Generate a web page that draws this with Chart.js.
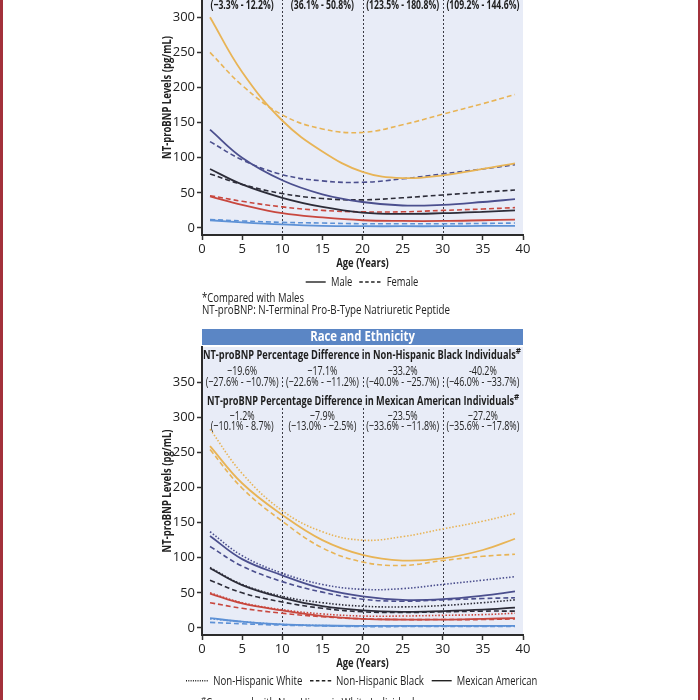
<!DOCTYPE html>
<html><head><meta charset="utf-8">
<script src="https://cdn.jsdelivr.net/npm/chart.js@4.4.1/dist/chart.umd.min.js"></script>
<style>
html,body{margin:0;padding:0;background:#fff;width:700px;height:700px;overflow:hidden;position:relative;}
canvas{position:absolute;left:150px;}
#c1{top:-100px}
#c2{top:300px}
.bar{position:absolute;top:0;width:2.5px;height:700px;background:#a3313b}
</style></head><body>
<div class="bar" style="left:0"></div>
<div class="bar" style="left:697.5px"></div>
<canvas id="c1" width="400" height="420"></canvas>
<canvas id="c2" width="400" height="420"></canvas>
<script>
// ---------- data ----------
const ages = [1, 5, 10, 15, 20, 25, 30, 35, 39];
const xTicks = [0, 5, 10, 15, 20, 25, 30, 35, 40];
const yTicks = [0, 50, 100, 150, 200, 250, 300, 350];

// Sex panel (solid = Male, dashed = Female)
const goldMale     = [300, 222, 153, 109, 80, 71, 75, 84, 92];
const goldFemale   = [250, 203, 161, 141, 136, 147, 162, 177, 190];
const navyMale     = [140, 100, 68, 48, 37, 32, 33, 37, 41];
const navyFemale   = [123, 97, 76, 67, 65, 70, 77, 84, 90];
const blackMale    = [84, 62, 43, 30, 22, 20, 21, 23, 25];
const blackFemale  = [77, 62, 49, 42, 40, 43, 47, 51, 54];
const redMale      = [45, 33, 21, 15, 11, 10, 10, 11, 12];
const redFemale    = [46, 38, 30, 25, 23, 23, 25, 27, 29];
const blueMale     = [11, 8, 5, 3, 2.5, 2.5, 2.5, 3, 3];
const blueFemale   = [12, 10, 8, 7, 6, 6, 6, 6.5, 7];

// Race panel (dotted = Non-Hispanic White, dashed = Non-Hispanic Black, solid = Mexican American)
const goldWhite  = [283, 220, 167, 137, 125, 130, 141, 152, 163];
const goldBlack  = [254, 199, 152, 114, 94, 89, 96, 102, 105];
const goldMex    = [259, 206, 161, 125, 104, 96, 99, 111, 127];
const navyWhite  = [137, 103, 78, 62, 55, 56, 62, 68, 73];
const navyBlack  = [116, 88, 66, 51, 41, 38, 40, 42, 43];
const navyMex    = [131, 98, 75, 56, 45, 40, 41, 46, 52];
const blackWhite = [86, 62, 45, 36, 31, 30, 32, 36, 40];
const blackBlack = [68, 50, 37, 28, 23, 22, 23, 24, 24];
const blackMex   = [85, 61, 43, 31, 25, 23, 24, 26, 29];
const redWhite   = [50, 36, 26, 20, 17, 17, 18, 19, 21];
const redBlack   = [36, 28, 21, 16, 13, 12, 12, 12, 13];
const redMex     = [49, 35, 25, 17, 13, 12, 12, 13, 14];
const blueWhite  = [13, 9, 5, 3.5, 2.5, 2.5, 2.5, 2.5, 3];
const blueBlack  = [8, 6, 4, 3, 2, 2, 2, 2, 2];
const blueMex    = [14, 9, 5, 3.5, 3, 3, 3, 3, 3];

// Header texts
const sexRanges   = ['(−3.3% - 12.2%)', '(36.1% - 50.8%)', '(123.5% - 180.8%)', '(109.2% - 144.6%)'];
const blackPct    = ['−19.6%', '−17.1%', '−33.2%', '-40.2%'];
const blackRanges = ['(−27.6% - −10.7%)', '(−22.6% - −11.2%)', '(−40.0% - −25.7%)', '(−46.0% - −33.7%)'];
const mexPct      = ['−1.2%', '−7.9%', '−23.5%', '−27.2%'];
const mexRanges   = ['(−10.1% - 8.7%)', '(−13.0% - −2.5%)', '(−33.6% - −11.8%)', '(−35.6% - −17.8%)'];
const columnAges  = [5, 15, 25, 35];
const guideAges   = [10, 20, 30];

// ---------- styling ----------
const C = {gold:'#e8b456', navy:'#4b4f8e', black:'#2c2c38', red:'#c8473e', blue:'#5d91d6'};
const FONT = '"Open Sans", "DejaVu Sans", sans-serif';
Chart.defaults.font.family = FONT;

function ds(values, color, style) {
  const dash = style === 'dashed' ? [5, 3] : style === 'dotted' ? [1.5, 1.8] : [];
  return {
    data: ages.map((x, i) => ({x, y: values[i]})),
    borderColor: color, borderWidth: style === 'solid' ? 1.8 : 1.6,
    borderDash: dash, pointRadius: 0, fill: false,
    tension: 0.4, cubicInterpolationMode: 'default'
  };
}

function txt(ctx, s, x, y, o) {
  o = o || {};
  const size = o.size || 12;
  ctx.save();
  ctx.font = (o.bold ? 'bold ' : '') + size + 'px ' + FONT;
  const w = ctx.measureText(s).width;
  const sx = o.sx || (o.w ? o.w / w : 1);
  ctx.translate(x, y);
  if (o.rot) ctx.rotate(o.rot);
  ctx.scale(sx, 1);
  ctx.textAlign = o.align || 'center';
  ctx.textBaseline = 'middle';
  ctx.fillStyle = o.color || '#222';
  ctx.fillText(s, 0, 0);
  ctx.restore();
  return w * sx;
}
function measure(ctx, s, size, bold) {
  ctx.save();
  ctx.font = (bold ? 'bold ' : '') + size + 'px ' + FONT;
  const w = ctx.measureText(s).width;
  ctx.restore();
  return w;
}
function line(ctx, x1, x2, y, dash) {
  ctx.save();
  ctx.strokeStyle = '#222'; ctx.lineWidth = 1.4;
  ctx.setLineDash(dash);
  ctx.beginPath(); ctx.moveTo(x1, y); ctx.lineTo(x2, y); ctx.stroke();
  ctx.restore();
}

function makeOptions() {
  const tickFont = {family: FONT, size: 13};
  const grid = {drawOnChartArea: false, drawTicks: true, tickLength: 5, tickColor: '#333', tickWidth: 1.5};
  const border = {display: true, color: '#2b2b2b', width: 2};
  return {
    responsive: false, animation: false,
    layout: {padding: {left: 0, right: 27, top: 47, bottom: 0}},
    plugins: {legend: {display: false}, tooltip: {enabled: false}},
    scales: {
      x: {type: 'linear', min: 0, max: 40,
          afterBuildTicks(s) { s.ticks = xTicks.map(v => ({value: v})); },
          ticks: {font: tickFont, color: '#222', padding: 1, maxRotation: 0, autoSkip: false},
          grid, border, afterFit(s) { s.height = 85; }},
      y: {type: 'linear', min: -10, max: 400,
          afterBuildTicks(s) { s.ticks = yTicks.map(v => ({value: v})); },
          ticks: {font: tickFont, color: '#222', padding: 2},
          grid, border, afterFit(s) { s.width = 52; }}
    }
  };
}

function bgAndGuides(segments) {
  return {
    id: 'bgGuides',
    beforeDraw(chart) {
      const {ctx, chartArea: a} = chart;
      ctx.save(); ctx.fillStyle = '#e8ecf7';
      ctx.fillRect(a.left, a.top, a.right - a.left, a.bottom - a.top - 1);
      ctx.restore();
    },
    beforeDatasetsDraw(chart) {
      const {ctx, chartArea: a, scales} = chart;
      ctx.save();
      ctx.strokeStyle = '#3a3a44'; ctx.lineWidth = 1; ctx.setLineDash([2, 2]);
      guideAges.forEach(g => {
        const x = Math.round(scales.x.getPixelForValue(g)) + 0.5;
        (segments || [[a.top, a.bottom]]).forEach(([y1, y2]) => {
          ctx.beginPath(); ctx.moveTo(x, y1); ctx.lineTo(x, y2); ctx.stroke();
        });
      });
      ctx.restore();
    }
  };
}

// ---------- top panel: Sex ----------
const topText = {
  id: 'topText',
  afterDraw(chart) {
    const {ctx, scales} = chart;
    const sxB = 73 / measure(ctx, sexRanges[2], 12.5, true);
    sexRanges.forEach((s, i) => txt(ctx, s, scales.x.getPixelForValue(columnAges[i]), 105, {bold: true, size: 12.5, sx: sxB, color: '#1e1e1e'}));
    txt(ctx, 'NT-proBNP Levels (pg/mL)', 17, 197.5, {bold: true, size: 13, w: 123, rot: -Math.PI / 2});
    txt(ctx, 'Age (Years)', 212.5, 363, {bold: true, size: 12.5, w: 52.6});
    line(ctx, 155.7, 175.7, 382, []);
    txt(ctx, 'Male', 181, 382, {align: 'left', w: 21.3, size: 13.5});
    line(ctx, 209.3, 232.3, 382, [3.5, 2.4]);
    txt(ctx, 'Female', 236.7, 382, {align: 'left', w: 31.6, size: 13.5});
    txt(ctx, '*Compared with Males', 52, 398, {align: 'left', w: 102, size: 12.5});
    txt(ctx, 'NT-proBNP: N-Terminal Pro-B-Type Natriuretic Peptide', 52, 410.7, {align: 'left', w: 248, size: 12.5});
  }
};

new Chart(document.getElementById('c1'), {
  type: 'line',
  data: {datasets: [
    ds(goldMale, C.gold, 'solid'), ds(goldFemale, C.gold, 'dashed'),
    ds(navyMale, C.navy, 'solid'), ds(navyFemale, C.navy, 'dashed'),
    ds(blackMale, C.black, 'solid'), ds(blackFemale, C.black, 'dashed'),
    ds(redMale, C.red, 'solid'), ds(redFemale, C.red, 'dashed'),
    ds(blueMale, C.blue, 'solid'), ds(blueFemale, C.blue, 'dashed')
  ]},
  options: makeOptions(),
  plugins: [bgAndGuides(null), topText]
});

// ---------- bottom panel: Race and Ethnicity ----------
const botText = {
  id: 'botText',
  afterDraw(chart) {
    const {ctx, scales, chartArea: a} = chart;
    // banner
    ctx.save(); ctx.fillStyle = '#5b86c5';
    ctx.fillRect(a.left, 29, a.right - a.left, 16); ctx.restore();
    txt(ctx, 'Race and Ethnicity', 212.5, 37.5, {bold: true, size: 14, w: 104.7, color: '#ffffff'});
    // headings
    const h1 = 'NT-proBNP Percentage Difference in Non-Hispanic Black Individuals';
    const h2 = 'NT-proBNP Percentage Difference in Mexican American Individuals';
    txt(ctx, h1, 209.4, 55.7, {bold: true, size: 12.5, w: 313, color: '#1e1e1e'});
    txt(ctx, '#', 209.4 + 156.5 + 2.5, 52, {bold: true, size: 8, color: '#1e1e1e'});
    txt(ctx, h2, 210.6, 101.7, {bold: true, size: 12.5, w: 307, color: '#1e1e1e'});
    txt(ctx, '#', 210.6 + 153.5 + 2.5, 98, {bold: true, size: 8, color: '#1e1e1e'});
    const sxR = 73 / measure(ctx, blackRanges[0], 12.5, false);
    columnAges.forEach((g, i) => {
      const x = scales.x.getPixelForValue(g);
      txt(ctx, blackPct[i], x, 71.7, {size: 12.5, sx: sxR});
      txt(ctx, blackRanges[i], x, 82.5, {size: 12.5, sx: sxR});
      txt(ctx, mexPct[i], x, 116.7, {size: 12.5, sx: sxR});
      txt(ctx, mexRanges[i], x, 126.9, {size: 12.5, sx: sxR});
    });
    txt(ctx, 'NT-proBNP Levels (pg/mL)', 17, (a.top + a.bottom) / 2, {bold: true, size: 13, w: 123, rot: -Math.PI / 2});
    txt(ctx, 'Age (Years)', 212.5, 363, {bold: true, size: 12.5, w: 52.6});
    line(ctx, 36, 58.3, 380.7, [1, 1.3]);
    txt(ctx, 'Non-Hispanic White', 63.3, 380.7, {align: 'left', w: 89, size: 13.5});
    line(ctx, 160, 181.7, 380.7, [3.5, 2.4]);
    txt(ctx, 'Non-Hispanic Black', 186, 380.7, {align: 'left', w: 88, size: 13.5});
    line(ctx, 281.7, 301.7, 380.7, []);
    txt(ctx, 'Mexican American', 306.7, 380.7, {align: 'left', w: 80.6, size: 13.5});
    txt(ctx, '#', 51, 400, {align: 'left', size: 8});
    txt(ctx, 'Compared with Non-Hispanic White Individuals', 56, 403.5, {align: 'left', w: 213, size: 12.5});
  }
};

new Chart(document.getElementById('c2'), {
  type: 'line',
  data: {datasets: [
    ds(goldWhite, C.gold, 'dotted'), ds(goldBlack, C.gold, 'dashed'), ds(goldMex, C.gold, 'solid'),
    ds(navyWhite, C.navy, 'dotted'), ds(navyBlack, C.navy, 'dashed'), ds(navyMex, C.navy, 'solid'),
    ds(blackWhite, C.black, 'dotted'), ds(blackBlack, C.black, 'dashed'), ds(blackMex, C.black, 'solid'),
    ds(redWhite, C.red, 'dotted'), ds(redBlack, C.red, 'dashed'), ds(redMex, C.red, 'solid'),
    ds(blueWhite, C.blue, 'dotted'), ds(blueBlack, C.blue, 'dashed'), ds(blueMex, C.blue, 'solid')
  ]},
  options: makeOptions(),
  plugins: [bgAndGuides([[77, 89], [108, 335]]), botText]
});
</script></body></html>
